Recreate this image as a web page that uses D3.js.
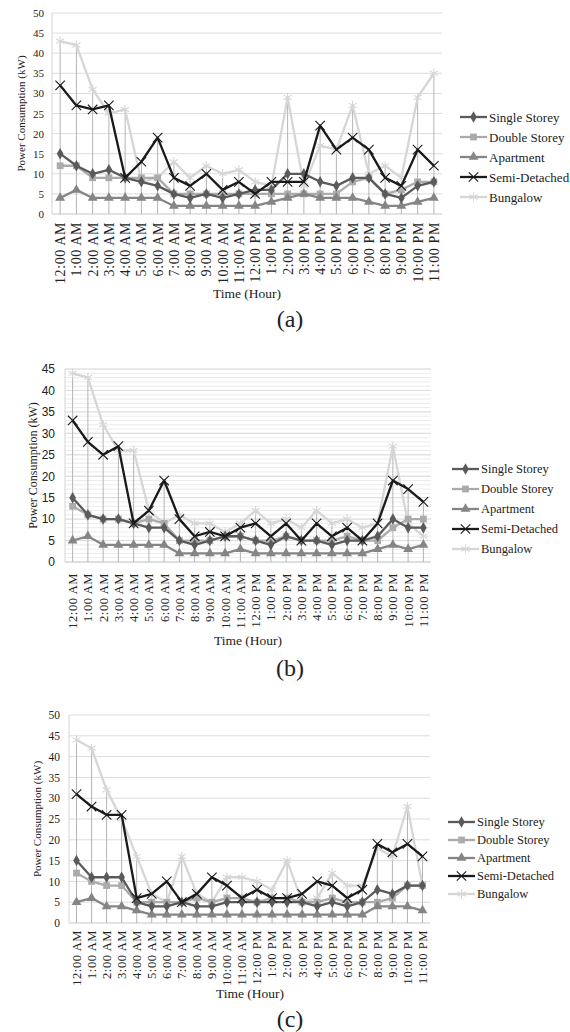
<!DOCTYPE html>
<html lang='en'>
<head>
  <meta charset='UTF-8'>
  <title>Power Consumption</title>
  <style>
    body { margin: 0; background: #fff; }
    text { font-family: 'Liberation Serif', 'Times New Roman', serif; fill: #222; }
  </style>
</head>
<body>
<script src='https://d3js.org/d3.v7.min.js'></script>
<script>
  // categories
  var hours = ['12:00 AM', '1:00 AM', '2:00 AM', '3:00 AM', '4:00 AM', '5:00 AM', '6:00 AM', '7:00 AM',
    '8:00 AM', '9:00 AM', '10:00 AM', '11:00 AM', '12:00 PM', '1:00 PM', '2:00 PM', '3:00 PM',
    '4:00 PM', '5:00 PM', '6:00 PM', '7:00 PM', '8:00 PM', '9:00 PM', '10:00 PM', '11:00 PM']
  var seriesNames = ['Single Storey', 'Double Storey', 'Apartment', 'Semi-Detached', 'Bungalow']

  // (a)
  var singleA = [15, 12, 10, 11, 9, 8, 7, 5, 4, 5, 4, 5, 6, 6, 10, 10, 8, 7, 9, 9, 5, 4, 7, 8]
  var doubleA = [12, 12, 9, 9, 9, 9, 9, 5, 5, 5, 5, 5, 5, 5, 5, 5, 5, 5, 8, 9, 5, 6, 8, 8]
  var aptA = [4, 6, 4, 4, 4, 4, 4, 2, 2, 2, 2, 2, 2, 3, 4, 5, 4, 4, 4, 3, 2, 2, 3, 4]
  var semiA = [32, 27, 26, 27, 9, 13, 19, 9, 7, 10, 6, 8, 5, 8, 8, 8, 22, 16, 19, 16, 9, 7, 16, 12]
  var bungA = [43, 42, 31, 25, 26, 8, 9, 13, 9, 12, 10, 11, 8, 7, 29, 7, 17, 16, 27, 10, 12, 9, 29, 35]
  // (b)
  var singleB = [15, 11, 10, 10, 9, 8, 8, 5, 4, 5, 6, 6, 5, 4, 6, 5, 5, 4, 5, 5, 6, 10, 8, 8]
  var doubleB = [13, 11, 10, 10, 9, 10, 9, 5, 5, 5, 6, 6, 5, 5, 6, 5, 5, 5, 6, 5, 5, 8, 10, 10]
  var aptB = [5, 6, 4, 4, 4, 4, 4, 2, 2, 2, 2, 3, 2, 2, 2, 2, 2, 2, 2, 2, 3, 4, 3, 4]
  var semiB = [33, 28, 25, 27, 9, 12, 19, 10, 6, 7, 6, 8, 9, 6, 9, 5, 9, 6, 8, 5, 9, 19, 17, 14]
  var bungB = [44, 43, 32, 26, 26, 12, 9, 11, 9, 9, 7, 9, 12, 9, 10, 8, 12, 9, 10, 8, 9, 27, 9, 6]
  // (c)
  var singleC = [15, 11, 11, 11, 5, 4, 4, 5, 4, 4, 5, 5, 5, 5, 5, 5, 4, 5, 4, 5, 8, 7, 9, 9]
  var doubleC = [12, 10, 9, 9, 5, 5, 5, 5, 6, 5, 6, 6, 5, 6, 6, 5, 5, 6, 5, 5, 5, 6, 9, 9]
  var aptC = [5, 6, 4, 4, 3, 2, 2, 2, 2, 2, 2, 2, 2, 2, 2, 2, 2, 2, 2, 2, 4, 4, 4, 3]
  var semiC = [31, 28, 26, 26, 6, 7, 10, 5, 7, 11, 9, 6, 8, 6, 6, 7, 10, 9, 6, 8, 19, 17, 19, 16]
  var bungC = [44, 42, 32, 25, 16, 7, 5, 16, 7, 5, 11, 11, 10, 8, 15, 5, 6, 12, 9, 9, 18, 16, 28, 9]

  // tick labels
  var ticks50 = [0, 5, 10, 15, 20, 25, 30, 35, 40, 45, 50]
  var ticks45 = [0, 5, 10, 15, 20, 25, 30, 35, 40, 45]

  // series styles: colour + marker
  var styles = [
    {color: '#5a5a5a', symbol: d3.symbolDiamond, size: 38, fill: true},
    {color: '#ababab', symbol: d3.symbolSquare, size: 46, fill: true},
    {color: '#858585', symbol: d3.symbolTriangle, size: 42, fill: true},
    {color: '#1a1a1a', symbol: d3.symbolX, size: 60, fill: false},
    {color: '#d6d6d6', symbol: d3.symbolAsterisk, size: 60, fill: false}
  ]

  var svg = d3.select('body').append('svg')
    .attr('width', 570)
    .attr('height', 1032)
  svg.append('rect').attr('width', 570).attr('height', 1032).attr('fill', '#fff')

  var panels = [
    {
      data: [singleA, doubleA, aptA, semiA, bungA], ticks: ticks50, max: 50,
      left: 52, right: 442, top: 13, bottom: 214, minor: false,
      tickX: 44, tickFont: "11px 'Liberation Serif'", titleX: 21, titleSize: 11,
      xLabelTop: 222, xLabelSize: 14, xTitleX: 247, xTitleY: 298, tag: '(a)', tagY: 327,
      legX: 460, legY: 117, legStep: 20, legSize: 13
    },
    {
      data: [singleB, doubleB, aptB, semiB, bungB], ticks: ticks45, max: 45,
      left: 65, right: 431, top: 369, bottom: 562, minor: true,
      tickX: 55, tickFont: "12px 'Liberation Sans'", titleX: 33, titleSize: 12,
      xLabelTop: 573, xLabelSize: 12.5, xTitleX: 248, xTitleY: 645, tag: '(b)', tagY: 676,
      legX: 452, legY: 469, legStep: 20, legSize: 12.5
    },
    {
      data: [singleC, doubleC, aptC, semiC, bungC], ticks: ticks50, max: 50,
      left: 69, right: 430, top: 715, bottom: 923, minor: false,
      tickX: 60, tickFont: "11.5px 'Liberation Serif'", titleX: 37, titleSize: 11,
      xLabelTop: 930, xLabelSize: 12.5, xTitleX: 250, xTitleY: 998, tag: '(c)', tagY: 1027,
      legX: 448, legY: 822, legStep: 18, legSize: 12.5
    }
  ]

  var drawPanel = function (cfg) {
    var g = svg.append('g')
    var x = d3.scaleBand().domain(hours).range([cfg.left, cfg.right])
    var cx = function (h) { return x(h) + x.bandwidth() / 2 }
    var y = d3.scaleLinear().domain([0, cfg.max]).range([cfg.bottom, cfg.top])

    // minor grid (panel b only)
    if (cfg.minor) {
      g.append('g').selectAll('line').data(d3.range(0, cfg.max + 1)).enter().append('line')
        .attr('x1', cfg.left).attr('x2', cfg.right)
        .attr('y1', function (d) { return y(d) }).attr('y2', function (d) { return y(d) })
        .attr('stroke', '#ececec').attr('stroke-width', 1)
    }
    // major grid
    g.append('g').selectAll('line').data(cfg.ticks).enter().append('line')
      .attr('x1', cfg.left).attr('x2', cfg.right)
      .attr('y1', function (d) { return y(d) }).attr('y2', function (d) { return y(d) })
      .attr('stroke', function (d) { return d === 0 ? '#c8c8c8' : '#dcdcdc' }).attr('stroke-width', 1)
    // left axis line
    g.append('line').attr('x1', cfg.left).attr('x2', cfg.left)
      .attr('y1', y(cfg.max)).attr('y2', y(0)).attr('stroke', '#d4d4d4')

    // y tick labels
    var yAxis = d3.axisLeft(y).tickValues(cfg.ticks).tickSize(0).tickPadding(0)
    var ax = g.append('g').attr('transform', 'translate(' + cfg.tickX + ',0)').call(yAxis)
    ax.select('.domain').remove()
    ax.selectAll('text').style('font', cfg.tickFont).attr('fill', '#222')

    // drop lines from the top value of each hour
    g.append('g').selectAll('line').data(hours).enter().append('line')
      .attr('x1', cx).attr('x2', cx)
      .attr('y1', function (h, i) { return y(d3.max(cfg.data, function (s) { return s[i] })) })
      .attr('y2', y(0))
      .attr('stroke', '#b4b4b4').attr('stroke-width', 1)

    // x tick labels (rotated)
    g.append('g').selectAll('text').data(hours).enter().append('text')
      .attr('transform', function (h) { return 'translate(' + cx(h) + ',' + cfg.xLabelTop + ') rotate(-90)' })
      .attr('text-anchor', 'end')
      .attr('dy', '0.35em')
      .style('font-size', cfg.xLabelSize + 'px')
      .style('letter-spacing', '0.6px')
      .attr('fill', '#333')
      .text(function (h) { return h })

    // series, drawn lightest last like the original
    var order = [4, 1, 2, 0, 3]
    var line = d3.line().x(function (d, i) { return cx(hours[i]) }).y(function (d) { return y(d) })
    order.forEach(function (k) {
      var st = styles[k]
      var s = g.append('g')
      s.append('path').attr('d', line(cfg.data[k]))
        .attr('fill', 'none').attr('stroke', st.color)
        .attr('stroke-width', 2.3).attr('stroke-linejoin', 'round')
      s.selectAll('path.m').data(cfg.data[k]).enter().append('path')
        .attr('class', 'm')
        .attr('d', d3.symbol().type(st.symbol).size(st.size))
        .attr('transform', function (d, i) { return 'translate(' + cx(hours[i]) + ',' + y(d) + ')' })
        .attr('fill', st.fill ? st.color : 'none')
        .attr('stroke', st.color)
        .attr('stroke-width', st.fill ? 0 : 1.1)
    })

    // axis titles
    g.append('text')
      .attr('transform', 'translate(' + cfg.titleX + ',' + (cfg.top + cfg.bottom) / 2 + ') rotate(-90)')
      .attr('text-anchor', 'middle').attr('dy', '0.35em')
      .style('font-size', cfg.titleSize + 'px').attr('fill', '#333')
      .text('Power Consumption (kW)')
    g.append('text').attr('x', cfg.xTitleX).attr('y', cfg.xTitleY)
      .attr('text-anchor', 'middle').style('font-size', '13.5px').attr('fill', '#222')
      .text('Time (Hour)')
    g.append('text').attr('x', 290).attr('y', cfg.tagY)
      .attr('text-anchor', 'middle').style('font-size', '24px').attr('fill', '#111')
      .text(cfg.tag)

    // legend
    var leg = g.append('g').selectAll('g').data(seriesNames).enter().append('g')
      .attr('transform', function (d, i) { return 'translate(' + cfg.legX + ',' + (cfg.legY + i * cfg.legStep) + ')' })
    leg.append('line').attr('x1', 0).attr('x2', 27)
      .attr('stroke', function (d, i) { return styles[i].color }).attr('stroke-width', 2.3)
    leg.append('path')
      .attr('d', function (d, i) { return d3.symbol().type(styles[i].symbol).size(styles[i].size)() })
      .attr('transform', 'translate(13.5,0)')
      .attr('fill', function (d, i) { return styles[i].fill ? styles[i].color : 'none' })
      .attr('stroke', function (d, i) { return styles[i].color })
      .attr('stroke-width', function (d, i) { return styles[i].fill ? 0 : 1.1 })
    leg.append('text').attr('x', 29).attr('dy', '0.35em')
      .style('font-size', cfg.legSize + 'px').attr('fill', '#222')
      .text(function (d) { return d })
  }

  panels.forEach(drawPanel)
</script>
</body>
</html>
